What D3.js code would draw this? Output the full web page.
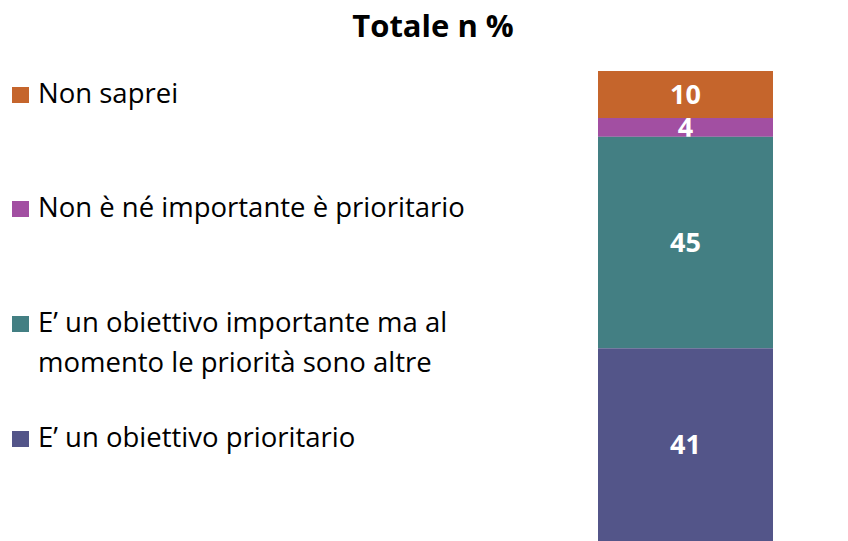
<!DOCTYPE html>
<html>
<head>
<meta charset="utf-8">
<script src="https://cdn.jsdelivr.net/npm/d3@7"></script>
<style>
  body { margin: 0; background: #fff; }
  svg { display: block; font-family: "Open Sans", Lato, sans-serif; font-variant-ligatures: none; }
</style>
</head>
<body>
<div id="chart"></div>
<script>
// data, listed from top of the stack to bottom
const categories = ["Totale"];
const seriesNames = [
    "Non saprei",
    "Non è né importante è prioritario",
    "E’ un obiettivo importante ma al momento le priorità sono altre",
    "E’ un obiettivo prioritario"
];
const legendLines = [
    ["Non saprei"],
    ["Non è né importante è prioritario"],
    ["E’ un obiettivo importante ma al", "momento le priorità sono altre"],
    ["E’ un obiettivo prioritario"]
];
const values = [10, 4, 45, 41];
const colors = ["#c5652c", "#a24fa2", "#437f83", "#535589"];
const title = "Totale n %";

const width = 848, height = 541;
const legendBaselines = [103, 217, 332, 447];

const svg = d3.select("#chart").append("svg")
    .attr("width", width)
    .attr("height", height);

// stack from the bottom up
const bottomUp = values.map((v, i) => ({ name: seriesNames[i], value: v, color: colors[i] })).reverse();
let acc = 0;
bottomUp.forEach(d => { d.y0 = acc; acc += d.value; d.y1 = acc; });

const y = d3.scaleLinear().domain([0, 100]).range([541, 71]);
const x = d3.scaleBand().domain(categories).range([598, 773]).padding(0);

// draw top segment first so lower segments sit over the labels above them
const segs = bottomUp.slice().reverse();
const bars = svg.append("g").attr("class", "bars");
segs.forEach(d => {
    const g = bars.append("g");
    g.append("rect")
        .attr("x", x("Totale"))
        .attr("y", y(d.y1))
        .attr("width", x.bandwidth())
        .attr("height", y(d.y0) - y(d.y1))
        .attr("fill", d.color);
    g.append("text")
        .attr("x", x("Totale") + x.bandwidth() / 2)
        .attr("y", (y(d.y0) + y(d.y1)) / 2)
        .attr("dy", "0.36em")
        .attr("text-anchor", "middle")
        .attr("fill", "#fff")
        .attr("font-weight", "bold")
        .attr("font-size", 27)
        .text(d.value);
});

// legend
const legend = svg.append("g").attr("class", "legend");
legendLines.forEach((lines, i) => {
    const base = legendBaselines[i];
    legend.append("rect")
        .attr("x", 12)
        .attr("y", base - 16)
        .attr("width", 17)
        .attr("height", 16)
        .attr("fill", colors[i]);
    const t = legend.append("text")
        .attr("x", 38)
        .attr("y", base)
        .attr("font-size", 27.5)
        .attr("fill", "#000");
    lines.forEach((ln, j) => {
        t.append("tspan").attr("x", 38).attr("dy", j === 0 ? 0 : 40).text(ln);
    });
});

// title
svg.append("text")
    .attr("x", 433)
    .attr("y", 37)
    .attr("text-anchor", "middle")
    .attr("font-weight", "bold")
    .attr("font-size", 31)
    .text(title);
</script>
</body>
</html>
